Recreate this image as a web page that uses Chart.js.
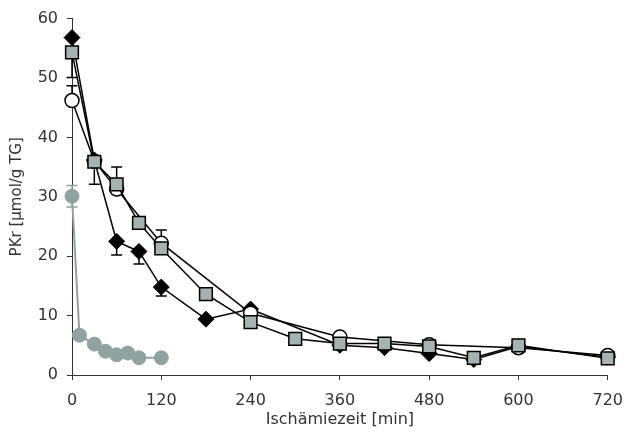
<!DOCTYPE html>
<html lang="de">
<head>
    <meta charset="UTF-8">
    <title>PKr Ischämiezeit</title>
    <script src="https://cdn.jsdelivr.net/npm/chart.js@4.4.1/dist/chart.umd.min.js"></script>
    <style>
        body { margin: 0; background: #fff; }
        #wrap { width: 634px; height: 441px; }
    </style>
</head>
<body>
<div id="wrap"><canvas id="grafico" width="634" height="441"></canvas></div>
<script>
// Zeitpunkte [min] und PKr-Werte je Gruppe
const zeitRaute   = [0, 30, 60, 90, 120, 180, 240, 360, 420, 480, 540, 600, 720];
const pkrRaute    = [56.8, 36.2, 22.5, 20.8, 14.8, 9.4, 11.1, 5.0, 4.6, 3.6, 2.6, 4.8, 3.0];
const fehlerRaute = [null, [4.1, 0], [2.3, 0], [2.1, 0], [1.5, 0], null, null, null, null, null, null, null, null];

const zeitKreis   = [0, 30, 60, 120, 240, 360, 480, 600, 720];
const pkrKreis    = [46.2, 36.0, 31.3, 22.2, 10.4, 6.4, 5.1, 4.6, 3.3];
const fehlerKreis = [[0, 2.5], null, [0, 3.7], [0, 2.2], null, null, null, null, null];

const zeitQuadrat   = [0, 30, 60, 90, 120, 180, 240, 300, 360, 420, 480, 540, 600, 720];
const pkrQuadrat    = [54.3, 35.9, 32.1, 25.6, 21.3, 13.6, 8.9, 6.1, 5.3, 5.3, 4.8, 2.9, 5.0, 2.8];
const fehlerQuadrat = [[4.2, 0], null, null, null, null, null, null, null, null, null, null, null, null, null];

const zeitGrau   = [0, 10, 30, 45, 60, 75, 90, 120];
const pkrGrau    = [30.1, 6.7, 5.2, 4.0, 3.4, 3.7, 2.9, 2.9];
const fehlerGrau = [[1.8, 1.8], null, null, null, null, null, null, null];

const xTicks = [0, 120, 240, 360, 480, 600, 720];
const yTicks = [0, 10, 20, 30, 40, 50, 60];

const punkte = (xs, ys) => xs.map((x, i) => ({ x: x, y: ys[i] }));

// einseitige / zweiseitige Fehlerbalken unter den Markern
const fehlerbalken = {
    id: 'fehlerbalken',
    beforeDatasetDraw(chart, args) {
        const ds = chart.data.datasets[args.index];
        if (!ds.fehler) return;
        const ctx = chart.ctx;
        const xs = chart.scales.x, ys = chart.scales.y;
        ctx.save();
        ctx.strokeStyle = ds.fehlerFarbe;
        ctx.lineWidth = 1.5;
        ds.data.forEach((p, i) => {
            const f = ds.fehler[i];
            if (!f) return;
            const px = xs.getPixelForValue(p.x);
            const enden = [];
            if (f[0]) enden.push(ys.getPixelForValue(p.y - f[0]));
            if (f[1]) enden.push(ys.getPixelForValue(p.y + f[1]));
            const py = ys.getPixelForValue(p.y);
            enden.forEach(e => {
                ctx.beginPath();
                ctx.moveTo(px, py);
                ctx.lineTo(px, e);
                ctx.moveTo(px - 5.5, e);
                ctx.lineTo(px + 5.5, e);
                ctx.stroke();
            });
        });
        ctx.restore();
    }
};

const ctx = document.getElementById('grafico').getContext('2d');
new Chart(ctx, {
    type: 'line',
    data: {
        datasets: [
            {
                data: punkte(zeitQuadrat, pkrQuadrat),
                fehler: fehlerQuadrat, fehlerFarbe: '#000',
                borderColor: '#000', borderWidth: 1.5,
                pointStyle: 'rect', pointRadius: 9,
                pointBackgroundColor: '#a4b4b3', pointBorderColor: '#000', pointBorderWidth: 1.5,
                clip: false
            },
            {
                data: punkte(zeitKreis, pkrKreis),
                fehler: fehlerKreis, fehlerFarbe: '#000',
                borderColor: '#000', borderWidth: 1.5,
                pointStyle: 'circle', pointRadius: 7,
                pointBackgroundColor: '#fff', pointBorderColor: '#000', pointBorderWidth: 1.5,
                clip: false
            },
            {
                data: punkte(zeitRaute, pkrRaute),
                fehler: fehlerRaute, fehlerFarbe: '#000',
                borderColor: '#000', borderWidth: 1.5,
                pointStyle: 'rectRot', pointRadius: 8,
                pointBackgroundColor: '#000', pointBorderColor: '#000', pointBorderWidth: 1,
                clip: false
            },
            {
                data: punkte(zeitGrau, pkrGrau),
                fehler: fehlerGrau, fehlerFarbe: '#8fa3a1',
                borderColor: '#8fa3a1', borderWidth: 2,
                pointStyle: 'circle', pointRadius: 7,
                pointBackgroundColor: '#8fa3a1', pointBorderColor: '#8fa3a1', pointBorderWidth: 1,
                clip: false
            }
        ]
    },
    options: {
        responsive: false,
        animation: false,
        layout: { padding: { top: 15, right: 18, left: 0, bottom: 0 } },
        plugins: { legend: { display: false }, tooltip: { enabled: false } },
        scales: {
            x: {
                type: 'linear', min: 0, max: 720,
                afterFit: s => { s.height = 66; },
                afterBuildTicks: s => { s.ticks = xTicks.map(v => ({ value: v })); },
                border: { color: '#333', width: 1 },
                grid: { drawOnChartArea: false, drawTicks: true, tickLength: 5, tickColor: '#333' },
                ticks: { color: '#333', padding: 11, maxRotation: 0, font: { family: 'DejaVu Sans', size: 16 } },
                title: { display: true, text: 'Ischämiezeit [min]', color: '#333',
                         padding: { top: 0, bottom: 12 }, font: { family: 'DejaVu Sans', size: 16 } }
            },
            y: {
                min: 0, max: 60,
                afterFit: s => { s.width = 72; },
                afterBuildTicks: s => { s.ticks = yTicks.map(v => ({ value: v })); },
                border: { color: '#333', width: 1 },
                grid: { drawOnChartArea: false, drawTicks: true, tickLength: 5, tickColor: '#333' },
                ticks: { color: '#333', padding: 9, font: { family: 'DejaVu Sans', size: 16 } },
                title: { display: true, text: 'PKr [µmol/g TG]', color: '#333',
                         padding: { top: 8, bottom: 0 }, font: { family: 'DejaVu Sans', size: 15 } }
            }
        }
    },
    plugins: [fehlerbalken]
});
</script>
</body>
</html>
